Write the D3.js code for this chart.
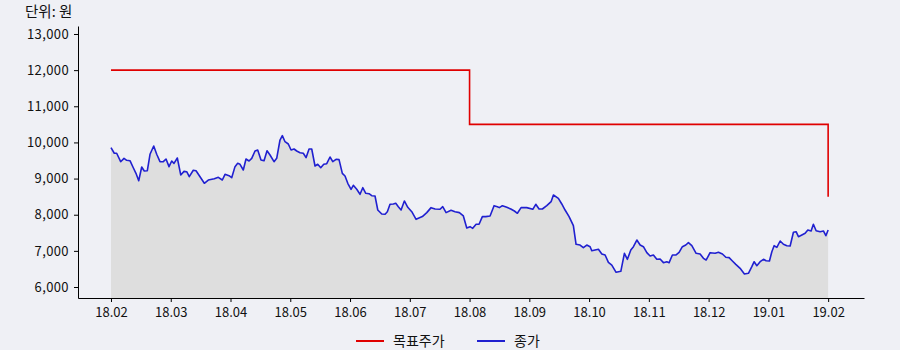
<!DOCTYPE html>
<html>
<head>
<meta charset="utf-8">
<script src="https://cdn.jsdelivr.net/npm/d3@7"></script>
<style>
  body { margin: 0; background: #eff0f5; }
  svg { display: block; font-family: "Noto Sans CJK KR", "Noto Sans", sans-serif; }
</style>
</head>
<body>
<div id="chart"></div>
<script>
// month ticks, evenly spaced
const monthLabels = ["18.02", "18.03", "18.04", "18.05", "18.06", "18.07", "18.08",
  "18.09", "18.10", "18.11", "18.12", "19.01", "19.02"];
const yTicks = [6000, 7000, 8000, 9000, 10000, 11000, 12000, 13000];

// target price (목표주가), step after each point
const targetMonths = [0, 6, 12];
const targetValues = [12000, 10500, 8500];

// close price (종가), time in months since 18.02
const closeMonths = [
  0, 0.055, 0.095, 0.162, 0.218, 0.263, 0.318, 0.373, 0.418, 0.464, 0.514, 0.557, 0.608, 0.653,
  0.715, 0.765, 0.82, 0.875, 0.921, 0.971, 1.016, 1.054, 1.11, 1.167, 1.222, 1.267, 1.31, 1.377,
  1.423, 1.49, 1.562, 1.628, 1.729, 1.796, 1.863, 1.908, 1.975, 2.02, 2.075, 2.12, 2.159, 2.214,
  2.259, 2.31, 2.355, 2.41, 2.455, 2.51, 2.561, 2.611, 2.661, 2.728, 2.773, 2.828, 2.867, 2.912,
  2.967, 3.013, 3.063, 3.108, 3.163, 3.218, 3.264, 3.314, 3.359, 3.414, 3.459, 3.51, 3.56, 3.61,
  3.665, 3.711, 3.766, 3.816, 3.871, 3.916, 3.962, 4.017, 4.055, 4.112, 4.167, 4.213, 4.263, 4.318,
  4.363, 4.418, 4.464, 4.531, 4.586, 4.624, 4.669, 4.725, 4.765, 4.808, 4.854, 4.909, 4.966, 5.033,
  5.105, 5.143, 5.21, 5.284, 5.356, 5.423, 5.506, 5.551, 5.607, 5.69, 5.757, 5.829, 5.896, 5.953,
  6.008, 6.053, 6.109, 6.159, 6.214, 6.271, 6.343, 6.41, 6.465, 6.499, 6.549, 6.623, 6.69, 6.75,
  6.8, 6.862, 6.957, 7.058, 7.108, 7.163, 7.218, 7.292, 7.364, 7.403, 7.486, 7.543, 7.598, 7.665,
  7.737, 7.782, 7.849, 7.904, 7.961, 8.017, 8.045, 8.1, 8.156, 8.213, 8.268, 8.323, 8.38, 8.452,
  8.531, 8.591, 8.641, 8.698, 8.742, 8.799, 8.854, 8.909, 8.966, 9.021, 9.076, 9.133, 9.188, 9.244,
  9.3, 9.339, 9.394, 9.451, 9.506, 9.561, 9.618, 9.662, 9.719, 9.791, 9.858, 9.913, 9.958, 10.025,
  10.109, 10.164, 10.231, 10.288, 10.343, 10.398, 10.455, 10.527, 10.599, 10.666, 10.723, 10.762,
  10.807, 10.862, 10.918, 10.962, 11.018, 11.058, 11.096, 11.142, 11.197, 11.252, 11.309, 11.364,
  11.419, 11.464, 11.503, 11.56, 11.615, 11.66, 11.715, 11.753, 11.799, 11.866, 11.921, 11.962, 12
];
const closeValues = [
  9854, 9700, 9700, 9467, 9560, 9505, 9495, 9300, 9145, 8940, 9320, 9210, 9218, 9672,
  9900, 9672, 9467, 9467, 9542, 9330, 9487, 9422, 9570, 9100, 9200, 9190, 9052, 9230,
  9218, 9052, 8870, 8960, 8995, 9035, 8960, 9118, 9080, 9025, 9330, 9422, 9395, 9237,
  9542, 9487, 9560, 9763, 9790, 9514, 9495, 9770, 9652, 9467, 9560, 10067, 10187, 10020,
  9957, 9790, 9818, 9763, 9716, 9700, 9578, 9818, 9818, 9348, 9395, 9300, 9395, 9412,
  9597, 9467, 9533, 9523, 9145, 9071, 8870, 8703, 8814, 8703, 8565, 8748, 8593, 8582,
  8526, 8518, 8130, 8020, 8012, 8083, 8288, 8297, 8316, 8222, 8130, 8380, 8205, 8083,
  7873, 7900, 7948, 8058, 8196, 8158, 8150, 8222, 8058, 8122, 8083, 8058, 7965, 7634,
  7670, 7624, 7735, 7735, 7948, 7948, 7965, 8250, 8222, 8196, 8250, 8205, 8158, 8103,
  8040, 8196, 8196, 8150, 8288, 8158, 8158, 8250, 8360, 8545, 8454, 8297, 8130, 7948,
  7697, 7182, 7162, 7087, 7162, 7115, 7004, 7024, 7043, 6913, 6885, 6683, 6608, 6407,
  6434, 6932, 6766, 7024, 7115, 7300, 7162, 7115, 6950, 6858, 6885, 6766, 6775, 6674,
  6700, 6674, 6885, 6885, 6960, 7115, 7162, 7226, 7143, 6932, 6913, 6794, 6747, 6950,
  6932, 6960, 6913, 6822, 6812, 6720, 6628, 6517, 6360, 6379, 6562, 6700,
  6590, 6700, 6766, 6728, 6720, 6977, 7143, 7098, 7273, 7182, 7143, 7134,
  7514, 7530, 7392, 7439, 7486, 7577, 7550, 7735, 7558, 7530, 7550, 7420, 7577
];

const width = 900, height = 350;
const svg = d3.select("#chart").append("svg")
  .attr("width", width)
  .attr("height", height);

svg.append("rect").attr("width", width).attr("height", height).attr("fill", "#eff0f5");

const x = d3.scaleLinear().domain([-0.552, 12.6]).range([78, 864]);
const y = d3.scaleLinear().domain([5696, 13221]).range([298, 26]);

const closeData = closeMonths.map((m, i) => [m, closeValues[i]]);
const targetData = targetMonths.map((m, i) => [m, targetValues[i]]);

// shaded area under close
svg.append("path")
  .datum(closeData)
  .attr("fill", "#dedede")
  .attr("d", d3.area().x(d => x(d[0])).y0(y(5696)).y1(d => y(d[1])));

svg.append("path")
  .datum(targetData)
  .attr("fill", "none")
  .attr("stroke", "#e00000")
  .attr("stroke-width", 1.6)
  .attr("d", d3.line().x(d => x(d[0])).y(d => y(d[1])).curve(d3.curveStepAfter));

svg.append("path")
  .datum(closeData)
  .attr("fill", "none")
  .attr("stroke", "#2020d0")
  .attr("stroke-width", 1.6)
  .attr("stroke-linejoin", "round")
  .attr("d", d3.line().x(d => x(d[0])).y(d => y(d[1])));

// axes
const yAxis = svg.append("g")
  .attr("transform", "translate(78,0)")
  .call(d3.axisLeft(y).tickValues(yTicks).tickFormat(d3.format(",")).tickSize(4).tickSizeOuter(0));
const xAxis = svg.append("g")
  .attr("transform", "translate(0,298)")
  .call(d3.axisBottom(x).tickValues(d3.range(monthLabels.length))
    .tickFormat(i => monthLabels[i]).tickSize(4).tickSizeOuter(0));

[yAxis, xAxis].forEach(g => {
  g.selectAll("text").attr("font-size", 13).attr("fill", "#111")
    .attr("font-family", "'Noto Sans CJK KR', sans-serif");
  g.select(".domain").attr("stroke", "#000");
  g.selectAll(".tick line").attr("stroke", "#000");
});
yAxis.selectAll("text").attr("dx", -2).attr("letter-spacing", 0.4);
xAxis.selectAll("text").attr("dy", "0.95em");

svg.append("text")
  .attr("x", 25).attr("y", 17)
  .attr("font-size", 14.5).attr("fill", "#111")
  .text("단위: 원");

// legend
const legend = [
  { name: "목표주가", color: "#e00000", x: 356 },
  { name: "종가", color: "#2020d0", x: 477 }
];
const lg = svg.selectAll(".lg").data(legend).enter().append("g")
  .attr("transform", d => `translate(${d.x},341)`);
lg.append("line").attr("x1", 0).attr("x2", 28)
  .attr("stroke", d => d.color).attr("stroke-width", 2);
lg.append("text").attr("x", 37).attr("y", 5)
  .attr("font-size", 14).attr("fill", "#111")
  .text(d => d.name);
</script>
</body>
</html>
